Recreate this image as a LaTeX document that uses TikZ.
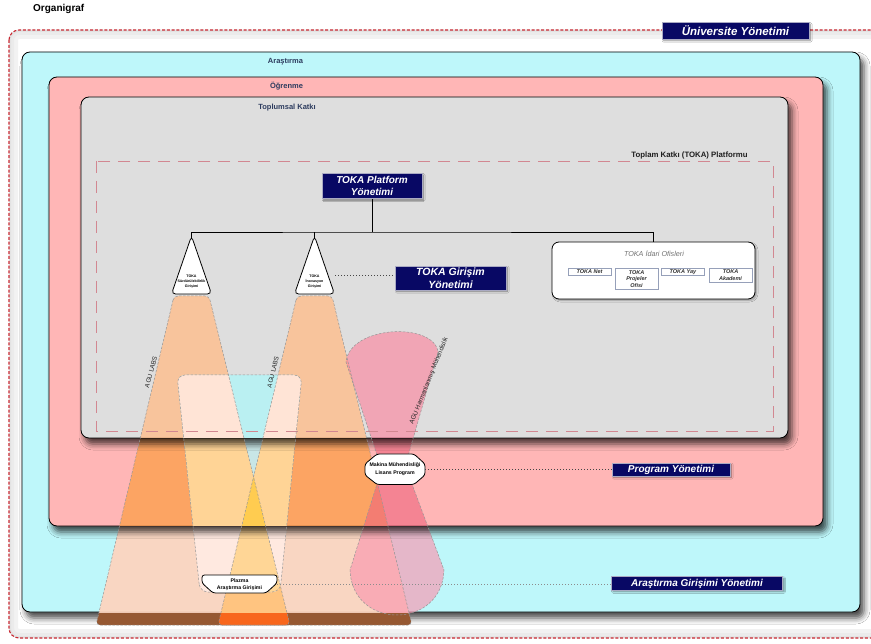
\documentclass[tikz,border=0pt]{standalone}
\usepackage{fontspec}
\setmainfont{Liberation Sans}
\usetikzlibrary{shadows.blur}

\definecolor{navy}{RGB}{8,8,100}
\definecolor{navyedge}{RGB}{170,170,195}
\definecolor{cyanbg}{RGB}{190,247,250}
\definecolor{pinkbg}{RGB}{255,182,182}
\definecolor{graybg}{RGB}{222,222,222}
\definecolor{labelblue}{RGB}{45,60,95}
\definecolor{borderred}{RGB}{200,40,50}
\definecolor{platdashcol}{RGB}{210,135,145}
\definecolor{edgegray}{RGB}{150,150,150}
\definecolor{dotgray}{RGB}{70,70,70}
\definecolor{officeedge}{RGB}{150,160,185}
\definecolor{officetext}{RGB}{50,50,50}
% beam colours per layer
\definecolor{gbeam}{RGB}{255,190,140}
\definecolor{pbeam}{RGB}{251,158,72}
\definecolor{cbeam}{RGB}{255,212,190}
\definecolor{cover}{RGB}{255,196,128}
\definecolor{beambrown}{RGB}{150,88,50}
\definecolor{overbrown}{RGB}{248,102,28}
\definecolor{gV}{RGB}{186,240,242}
\definecolor{gpale}{RGB}{255,228,214}
\definecolor{pV}{RGB}{200,230,230}
\definecolor{ppale}{RGB}{255,212,150}
\definecolor{pover}{RGB}{255,204,80}
\definecolor{cpale}{RGB}{255,233,224}
\definecolor{cpaleover}{RGB}{255,214,150}
\definecolor{ghour}{RGB}{255,127,155}
\definecolor{phour}{RGB}{238,99,125}
\definecolor{chour}{RGB}{250,150,175}

\newcommand{\fsz}[2]{\fontsize{#1}{#2}\selectfont}

% light beams and the blended-programme hourglass
\newcommand{\beamAp}{[rounded corners=4pt] (174,296) -- (96,625) -- (290,625) -- (209,296) -- cycle}
\newcommand{\beamBp}{[rounded corners=4pt] (297,296) -- (218,625) -- (412,625) -- (332,296) -- cycle}
\newcommand{\plazmap}{[rounded corners=8pt] (200,592) -- (177,375) -- (302,375) -- (280,592) -- cycle}
\newcommand{\hourp}{(382,470) -- (346,362) .. controls (350,325) and (434,322) .. (438,352) -- (404,470) -- cycle (406,468) -- (444,570) .. controls (442,630) and (352,630) .. (350,570) -- (382,468) -- cycle}

\tikzset{
  layerbox/.style={draw=black, line width=0.8pt, rounded corners=8pt,
    blur shadow={shadow xshift=4pt, shadow yshift=-6pt, shadow blur radius=6pt, shadow opacity=72}},
  layerlabel/.style={font=\bfseries\fsz{7.5}{9}, text=labelblue},
  navybox/.style={fill=navy, draw=navyedge, line width=0.6pt, text=white, align=center, inner sep=0pt,
    blur shadow={shadow xshift=1.5pt, shadow yshift=-1.5pt, shadow blur radius=1.5pt, shadow opacity=45}},
  frame/.style={draw=borderred, line width=1.1pt, dash pattern=on 3pt off 1.8pt, rounded corners=10pt},
  platdash/.style={draw=platdashcol, line width=0.8pt, dash pattern=on 12pt off 8pt},
  beamedge/.style={draw=edgegray, line width=0.5pt, dash pattern=on 2.5pt off 1.5pt},
  dotline/.style={draw=dotgray, line width=0.7pt, dash pattern=on 0.7pt off 2.3pt},
  connector/.style={draw=black, line width=0.9pt},
  conebody/.style={fill=white, draw=black, line width=0.8pt, rounded corners=4pt},
  tagbody/.style={fill=white, draw=black, line width=0.8pt, rounded corners=2.5pt},
  conetext/.style={font=\bfseries\fsz{3.6}{5.3}, align=center, inner sep=0pt},
  tagtext/.style={align=center, inner sep=0pt},
  officebox/.style={draw=officeedge, line width=0.6pt, fill=white, text=officetext,
    font=\bfseries\itshape\fsz{5.5}{6.6}, align=center, minimum width=43pt, inner sep=0.6pt, anchor=north},
  slanted/.style={font=\fsz{6.4}{7}, text=black!85, inner sep=0pt}
}

\begin{document}
\begin{tikzpicture}[x=1pt,y=-1pt]
\useasboundingbox (0,0) rectangle (871,644);
\fill[white] (0,0) rectangle (871,644);

% ---- outer frame with a soft inner glow
\begin{scope}
  \clip[rounded corners=10pt] (9,30) rectangle (885,638);
  \draw[line width=18pt, black!5, rounded corners=10pt] (9,30) rectangle (885,638);
  \draw[line width=10pt, black!8, rounded corners=10pt] (9,30) rectangle (885,638);
  \draw[line width=4pt, black!11, rounded corners=10pt] (9,30) rectangle (885,638);
\end{scope}
\draw[frame] (9,30) rectangle (885,638);

\node[font=\bfseries\fsz{10}{12}, anchor=west, inner sep=0pt] (title) at (33,8.5) {Organigraf};

% ---- research layer
\path[layerbox, fill=cyanbg] (22,52) rectangle (860,612);

% beams running past the research layer
\begin{scope}
  \clip (0,613.3) rectangle (871,644);
  \fill[beambrown] \beamAp;
  \fill[beambrown] \beamBp;
  \begin{scope}\clip \beamAp; \fill[overbrown] \beamBp;\end{scope}
\end{scope}

% beams over the research layer
\begin{scope}
  \clip (23,526.4) rectangle (859,612.6);
  \fill[cbeam, opacity=.92] \beamAp;
  \fill[cbeam, opacity=.92] \beamBp;
  \begin{scope}\clip \beamAp; \fill[cover] \beamBp;\end{scope}
  \begin{scope}
    \clip \plazmap;
    \fill[cpale] \beamAp;
    \fill[cpale] \beamBp;
    \begin{scope}\clip \beamAp; \fill[cpaleover] \beamBp;\end{scope}
  \end{scope}
  \fill[chour, opacity=.65] \hourp;
\end{scope}

% ---- learning layer
\path[layerbox, fill=pinkbg] (49,77) rectangle (823,526);

\begin{scope}
  \clip (50,438.4) rectangle (822,525.6);
  \fill[pbeam, opacity=.75] \beamAp;
  \fill[pbeam, opacity=.75] \beamBp;
  \begin{scope}
    \clip \plazmap;
    \fill[pV] \plazmap;
    \fill[ppale] \beamAp;
    \fill[ppale] \beamBp;
    \begin{scope}\clip \beamAp; \fill[pover] \beamBp;\end{scope}
  \end{scope}
  \fill[phour, opacity=.6] \hourp;
\end{scope}

% ---- community contribution layer
\path[layerbox, fill=graybg] (81,97) rectangle (788,438);

\begin{scope}
  \clip (82,296) rectangle (787,437.6);
  \fill[gbeam, opacity=.8] \beamAp;
  \fill[gbeam, opacity=.8] \beamBp;
  \begin{scope}
    \clip \plazmap;
    \fill[gV] \plazmap;
    \fill[gpale] \beamAp;
    \fill[gpale] \beamBp;
  \end{scope}
  \fill[ghour, opacity=.6] \hourp;
\end{scope}

% ---- TOKA platform boundary
\draw[platdash] (96,161) rectangle (773,431);

% beam outlines
\draw[beamedge] \beamAp;
\draw[beamedge] \beamBp;
\draw[beamedge] \plazmap;
\draw[beamedge] \hourp;

% ---- layer labels
\node[layerlabel] (labAr) at (285.5,62) {Araştırma};
\node[layerlabel] (labOg) at (286.5,86) {Öğrenme};
\node[layerlabel] (labTk) at (287,108) {Toplumsal Katkı};
\node[font=\bfseries\fsz{7.8}{9}, text=black!88] (labPl) at (689.5,155) {Toplam Katkı (TOKA) Platformu};

% ---- management boxes
\node[navybox, minimum width=147pt, minimum height=16.5pt, font=\bfseries\itshape\fsz{11.5}{13}] (uni) at (735.5,31) {Üniversite Yönetimi};
\node[navybox, minimum width=100pt, minimum height=25pt, font=\bfseries\itshape\fsz{10}{12}] (plat) at (372,186) {TOKA Platform\\Yönetimi};
\node[navybox, minimum width=111pt, minimum height=24pt, font=\bfseries\itshape\fsz{10.5}{12.5}] (gy) at (450.5,278) {TOKA Girişim\\Yönetimi};
\node[navybox, minimum width=118pt, minimum height=13pt, font=\bfseries\itshape\fsz{10}{12}] (prog) at (671,469.5) {Program Yönetimi};
\node[navybox, minimum width=171pt, minimum height=13.5pt, font=\bfseries\itshape\fsz{10}{12}] (arg) at (697,583.5) {Araştırma Girişimi Yönetimi};

% ---- initiative cones
\filldraw[conebody] (191.5,236) -- (211.5,294) -- (171.5,294) -- cycle;
\filldraw[conebody] (314.5,236) -- (334.5,294) -- (294.5,294) -- cycle;
\node[conetext] (n1) at (191.5,281.5) {TOKA\\Sürdürülebilirlik\\Girişimi};
\node[conetext] (n2) at (314.5,281.5) {TOKA\\İnovasyon\\Girişimi};
\coordinate (n1top) at (191.5,238);
\coordinate (n2top) at (314.5,238);
\coordinate (n2r) at (335,275);

% ---- administrative offices
\node[fill=white, draw=black, line width=0.8pt, rounded corners=7pt, minimum width=203pt, minimum height=57pt,
  blur shadow={shadow xshift=1.5pt, shadow yshift=-1.5pt, shadow blur radius=1.5pt, shadow opacity=30}] (idari) at (653.5,270.5) {};
\node[font=\itshape\fsz{7.2}{8}, text=black!55, inner sep=0pt] (idtitle) at (654,254) {TOKA İdari Ofisleri};
\node[officebox, minimum height=7pt] (onet) at (589.5,268) {TOKA Net};
\node[officebox, minimum height=21.5pt] (oproj) at (636.5,268) {TOKA\\Projeler\\Ofisi};
\node[officebox, minimum height=7pt] (oyay) at (683,268) {TOKA Yay};
\node[officebox, minimum height=14pt] (oakad) at (730.5,268) {TOKA\\Akademi};

% ---- organisation tree
\coordinate (bus) at (372,232);
\draw[connector] (plat.south) -- (bus);
\draw[connector] (n1top) |- (bus) -| (idari.north);
\draw[connector] (n2top) -- (n2top |- bus);

% ---- programme and research tags
\filldraw[tagbody] (377,454) -- (414,454) -- (425,464) -- (425,475) -- (414,484.5) -- (377,484.5) -- (365,475) -- (365,464) -- cycle;
\node[tagtext, font=\bfseries\fsz{5.2}{8}, minimum width=60pt] (mk) at (395,469.5) {Makina Mühendisliği\\Lisans Program};
\filldraw[tagbody] (202,583) -- (202,575) -- (277,575) -- (277,583) -- (266,593) -- (213,593) -- cycle;
\node[tagtext, font=\bfseries\fsz{5.2}{7.6}, minimum width=75pt] (pz) at (239.5,584.5) {Plazma\\Araştırma Girişimi};

% ---- dotted management links
\draw[dotline] (n2r) -- (n2r -| gy.west);
\draw[dotline] (mk.east) -- (prog.west);
\draw[dotline, draw=black!45] (pz.east) -- (pz.east -| arg.west);

% ---- slanted beam captions
\node[slanted, rotate=75] (labsA) at (151,372) {AGU LABS};
\node[slanted, rotate=76] (labsB) at (273,372) {AGU LABS};
\node[slanted, rotate=68] (harm) at (429,381) {AGU Harmanlanmış Mühendislik};
\end{tikzpicture}
\end{document}
